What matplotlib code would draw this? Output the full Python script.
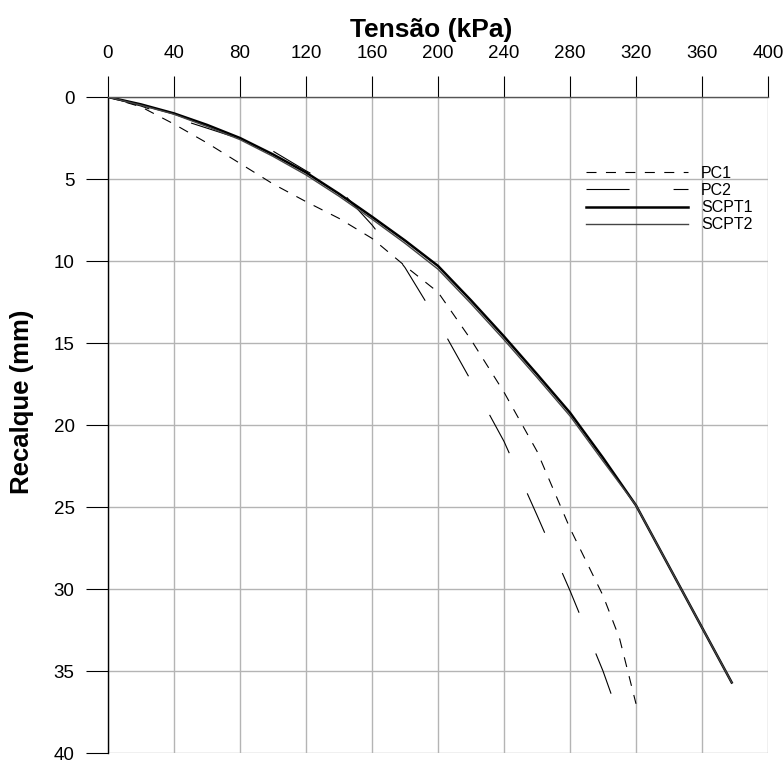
import matplotlib
matplotlib.use("Agg")
import matplotlib.pyplot as plt

plt.rcParams['font.family'] = ['Liberation Sans', 'DejaVu Sans']
plt.rcParams['lines.scale_dashes'] = False

# Load-settlement curves (tensão in kPa, recalque in mm)
pc1_x = [0, 20, 40, 60, 80, 100, 120, 140, 160, 180, 200, 220, 240, 260, 280, 300, 310, 320]
pc1_y = [0, 0.6, 1.65, 2.8, 4.05, 5.3, 6.38, 7.4, 8.62, 10.3, 11.9, 14.8, 18.0, 21.6, 26.3, 30.4, 33.0, 37.0]

pc2_x = [0, 20, 40, 60, 80, 100, 120, 140, 160, 180, 200, 220, 240, 260, 280, 300, 306]
pc2_y = [0, 0.55, 1.25, 1.9, 2.55, 3.3, 4.5, 5.6, 7.8, 10.4, 13.7, 17.3, 21.0, 25.5, 30.1, 35.0, 36.7]

scpt1_x = [0, 20, 40, 60, 80, 100, 120, 140, 160, 180, 200, 220, 240, 260, 280, 300, 320, 378]
scpt1_y = [0, 0.45, 1.0, 1.7, 2.5, 3.5, 4.6, 5.9, 7.3, 8.75, 10.3, 12.4, 14.6, 16.9, 19.25, 22.0, 24.9, 35.7]

scpt2_x = [0, 20, 40, 60, 80, 100, 120, 140, 160, 180, 200, 220, 240, 260, 280, 300, 320, 378]
scpt2_y = [0, 0.5, 1.05, 1.8, 2.6, 3.62, 4.75, 6.05, 7.45, 8.92, 10.5, 12.6, 14.8, 17.1, 19.45, 22.2, 24.9, 35.7]

x_ticks = [0, 40, 80, 120, 160, 200, 240, 280, 320, 360, 400]
y_ticks = [0, 5, 10, 15, 20, 25, 30, 35, 40]

fig = plt.figure(figsize=(7.84, 7.63), dpi=100)
ax = fig.add_axes([108 / 784, 1 - 753 / 763, 660 / 784, 656 / 763])

ax.plot(pc1_x, pc1_y, color='black', lw=0.8, dashes=(7.2, 6.8), label='PC1')
ax.plot(pc2_x, pc2_y, color='black', lw=0.8, dashes=(31, 31.7), label='PC2')
ax.plot(scpt1_x, scpt1_y, color='black', lw=1.8, label='SCPT1')
ax.plot(scpt2_x, scpt2_y, color='#444444', lw=1.0, label='SCPT2')

ax.set_xlim(0, 400)
ax.set_ylim(40, 0)
ax.set_xticks(x_ticks)
ax.set_yticks(y_ticks)
ax.xaxis.tick_top()
ax.grid(True, color='#b4b4b4', lw=1.0)
ax.set_axisbelow(True)

for side in ('right', 'bottom'):
    ax.spines[side].set_visible(False)
ax.spines['top'].set_color('#555555')
ax.spines['top'].set_linewidth(1.0)
ax.spines['left'].set_color('black')
ax.spines['left'].set_linewidth(1.0)

ax.tick_params(axis='x', direction='out', length=15, width=0.8, pad=10.5,
               labelsize=13.5, color='black')
ax.tick_params(axis='y', direction='out', length=16, width=0.8, pad=8,
               labelsize=13.5, color='black')

ax.set_xlabel('Tensão (kPa)', fontsize=19, fontweight='bold')
ax.xaxis.set_label_position('top')
ax.xaxis.set_label_coords(0.49, 1.091)
ax.set_ylabel('Recalque (mm)', fontsize=18.5, fontweight='bold')
ax.yaxis.set_label_coords(-0.112, 0.535)

leg = ax.legend(loc='upper left', bbox_to_anchor=(586 / 784, 1 - 166 / 763),
                bbox_transform=fig.transFigure, frameon=False, fontsize=11.5,
                handlelength=6.4, handletextpad=0.8, labelspacing=0.13,
                borderpad=0, borderaxespad=0)

fig.savefig('out.png', dpi=100)
